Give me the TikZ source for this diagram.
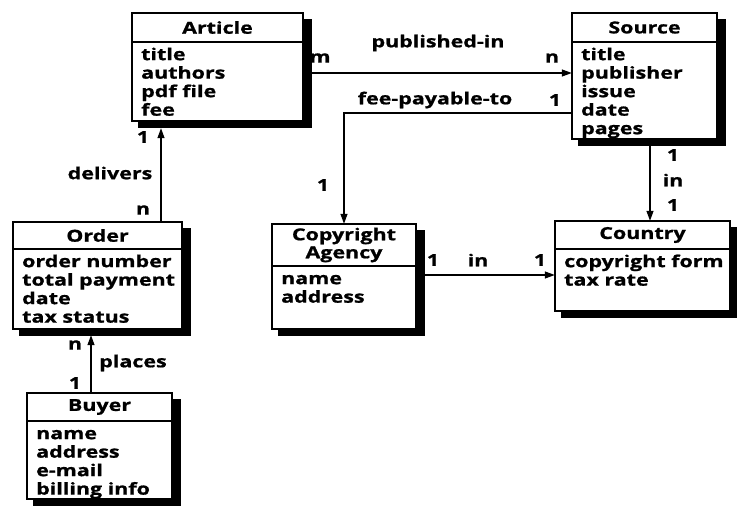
\documentclass[tikz,border=0pt]{standalone}
\usepackage{fontspec}
\setmainfont{Open Sans}[FakeStretch=1.3, BoldFeatures={FakeBold=1}]
\usetikzlibrary{arrows.meta,fit}

\tikzset{
  boxline/.style={line width=1.6pt, draw=black},
  boxshadow/.style={fill=black},
  headtext/.style={font=\bfseries\fontsize{16.5}{18}\selectfont, align=center, inner sep=0pt},
  attrtext/.style={font=\bfseries\fontsize{16.5}{18.5}\selectfont, align=left, anchor=north west, inner sep=0pt},
  lbl/.style={font=\bfseries\fontsize{16.5}{18}\selectfont, inner sep=0pt},
  rel/.style={line width=1.3pt, -{Triangle[length=10pt,width=7pt]}},
}

% entity box: name, x1, y1, x2, y2, header line y, title, attributes
\newcommand\erentity[8]{%
  \fill[boxshadow] (#2+6,#3+6) rectangle (#4+9,#5+7);
  \draw[boxline, fill=white] (#2,#3) rectangle (#4,#5);
  \draw[boxline] (#2,#6) -- (#4,#6);
  \node[fit={(#2,#3) (#4,#5)}, inner sep=0pt] (#1) {};
  \node[headtext] (#1-title) at ({(#2+#4)/2},{(#3+#6)/2}) {#7};
  \node[attrtext] (#1-attrs) at (#2+9,#6+5) {\strut#8};
}

\begin{document}
\begin{tikzpicture}[x=1pt, y=-1pt]
\useasboundingbox (0,0) rectangle (737,508);

\erentity{article}{132}{13}{303}{121}{42}{Article}{title\\authors\\pdf file\\fee}
\erentity{source}{572}{13}{717}{139}{42}{Source}{title\\publisher\\issue\\date\\pages}
\erentity{country}{555}{221}{730}{311}{249}{Country}{copyright form\\tax rate}
\erentity{agency}{272}{224}{416}{329}{266}{Copyright\\Agency}{name\\address}
\erentity{order}{13}{222}{182}{329}{249}{Order}{order number\\total payment\\date\\tax status}
\erentity{buyer}{27}{393}{172}{499}{421}{Buyer}{name\\address\\e-mail\\billing info}

% published-in
\draw[rel] ([xshift=9pt,yshift=-6pt]article.east) -- ([yshift=3pt]source.west);
\node[lbl] (pubm) at (320,58) {m};
\node[lbl] (pubn) at (552,58) {n};
\node[lbl] (pubname) at (438,43) {published-in};

% fee-payable-to
\draw[rel] ([yshift=-37pt]source.west) -| (agency.north);
\node[lbl] (feename) at (435,100) {fee-payable-to};
\node[lbl] (fee1a) at (555,100) {1};
\node[lbl] (fee1b) at (323,185) {1};

% source in country
\draw[rel] ([xshift=5.5pt,yshift=-6pt]source.south) -- ([xshift=7.5pt]country.north);
\node[lbl] (sc1a) at (673,155) {1};
\node[lbl] (scname) at (673,180) {in};
\node[lbl] (sc1b) at (673,205) {1};

% agency in country
\draw[rel] ([xshift=9pt,yshift=1.5pt]agency.east) -- ([yshift=-9pt]country.west);
\node[lbl] (ac1a) at (433,260) {1};
\node[lbl] (acname) at (478,260) {in};
\node[lbl] (ac1b) at (540,260) {1};

% order delivers article
\draw[rel] ([xshift=63.5pt]order.north) -- ([xshift=-56.5pt,yshift=-7pt]article.south);
\node[lbl] (del1) at (143,137) {1};
\node[lbl] (delname) at (110,173) {delivers};
\node[lbl] (deln) at (143,210) {n};

% buyer places order
\draw[rel] ([xshift=-8.5pt]buyer.north) -- ([xshift=-6.5pt,yshift=-6pt]order.south);
\node[lbl] (pln) at (75,345) {n};
\node[lbl] (plname) at (133,363) {places};
\node[lbl] (pl1) at (75,383) {1};

\end{tikzpicture}
\end{document}
